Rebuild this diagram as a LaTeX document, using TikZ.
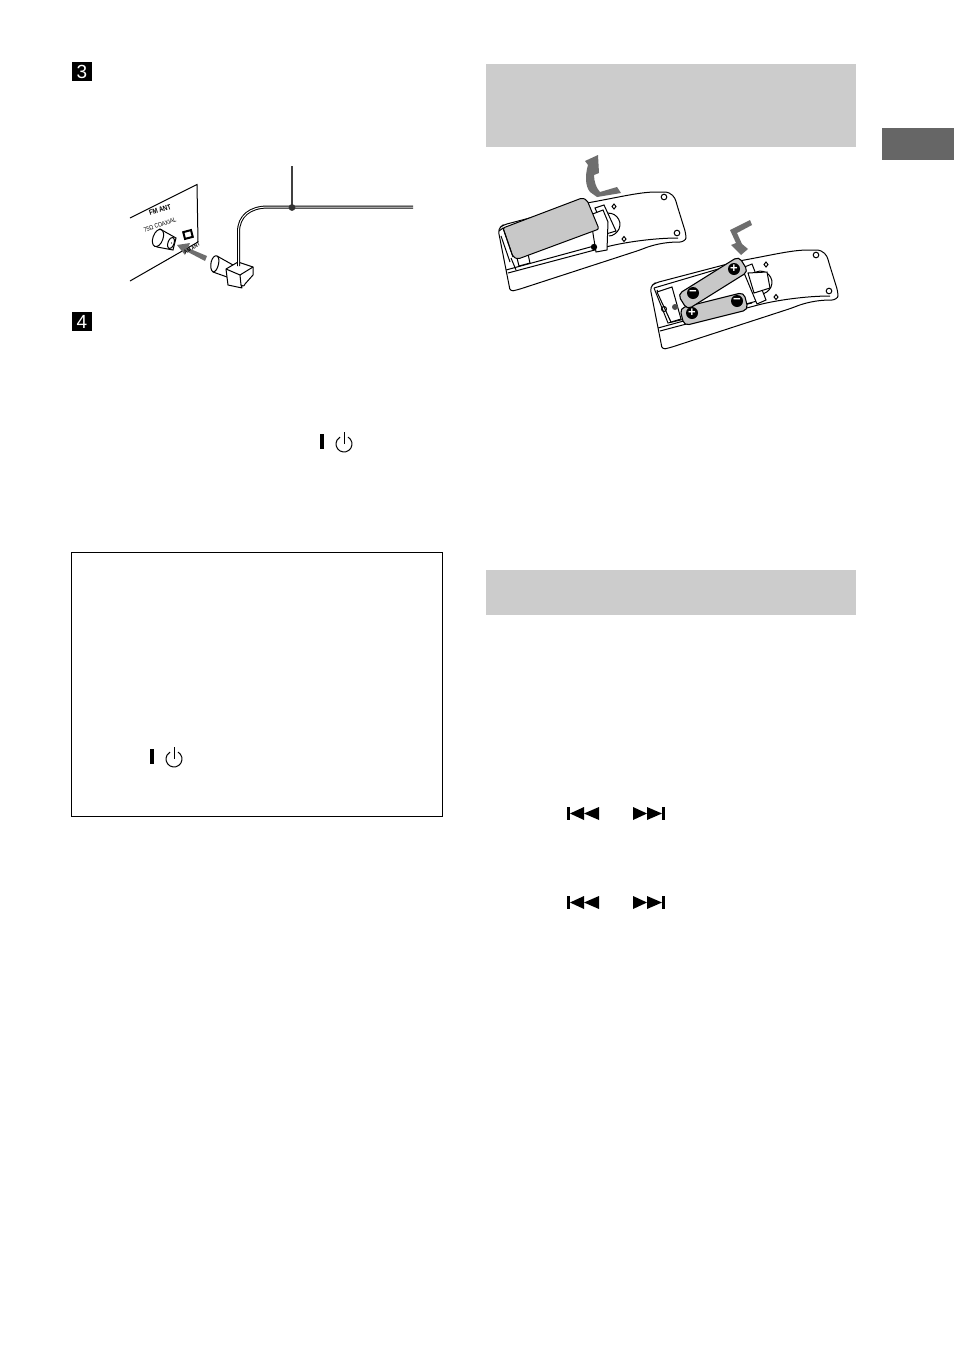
\documentclass[tikz,border=0pt]{standalone}
\usepackage{fontspec}
\setmainfont{Liberation Sans}
\usetikzlibrary{calc}
\definecolor{headgray}{HTML}{CCCCCC}
\definecolor{tabgray}{HTML}{666666}
\definecolor{arrowgray}{HTML}{6E6E6E}
\definecolor{coldgray}{HTML}{C8C8C8}
\tikzset{
 numbox/.style={fill=black,text=white,inner sep=0pt,minimum size=19.5pt,font=\fontsize{19}{19}\selectfont},
 panellabel/.style={inner sep=0pt,rotate=18},
 thin line/.style={line width=1pt,black},
 cell/.style={draw=black,line width=1.1pt,fill=coldgray,rounded corners=5pt,inner sep=0pt,minimum height=18pt},
 pole/.style={circle,fill=black,text=white,inner sep=0pt,minimum size=12pt,font=\bfseries\fontsize{13}{13}\selectfont},
}
% back of the remote, drawn where the first one lies
\newcommand{\remotebody}{
 \draw[thin line,fill=white,rounded corners=4pt] (498,229)--(503,225)--(587,203)
  ..controls (620,197) and (640,192) .. (660,192)
  ..controls (672,192) and (675,198) .. (677,205)--(686,234)
  ..controls (686,240) and (682,242) .. (676,242)
  ..controls (660,243) and (650,246) .. (640,250)--(517,290)
  ..controls (512,291) and (510,290) .. (509,285)--cycle;
 \draw[thin line] (508,273)--(606,247)
  ..controls (625,242) and (655,238) .. (678,238);
 \draw[thin line] (506,270)--(605,243);
 \draw[thin line] (664,197) circle (2.8);
 \draw[thin line] (677,233) circle (2.8);
 \draw[thin line] (614,204)--(616,206.5)--(614,209)--(612,206.5)--cycle;
 \draw[thin line] (624,236.5)--(626,239)--(624,241.5)--(622,239)--cycle;
 \draw[thin line] (604,214) ..controls (614,210) and (623,220) .. (619,229)
  ..controls (617,233) and (613,236) .. (609,236);
}
\newcommand{\powersign}[2]{
 \fill (#1,#2) rectangle ++(4,15);
 \draw[line width=1pt] ($(#1,#2)+(24,-2)$) --++(0,12);
 \draw[line width=1pt] ($(#1,#2)+(28,3.07)$) arc[start angle=-60,end angle=240,radius=8];
}
\begin{document}
\begin{tikzpicture}[x=1pt,y=-1pt]
\useasboundingbox (0,0) rectangle (954,1352);
\fill[white] (0,0) rectangle (954,1352);

% grey bands and the side tab
\fill[headgray] (486,64) rectangle (856,147);
\fill[headgray] (486,570) rectangle (856,615);
\fill[tabgray] (882,128) rectangle (954,160);
\draw[thin line] (71.5,552.5) rectangle (442.5,816.5);

\node[numbox] (stepthree) at (82,71.5) {3};
\node[numbox] (stepfour) at (82,321.5) {4};

% aerial socket
\draw[thin line] (130,218)--(197,184.5)--(198,242)--(130,281);
\node[panellabel,xscale=0.8,font=\bfseries\fontsize{7.5}{8}\selectfont] (fmant) at (160,210) {FM ANT};
\node[panellabel,xscale=0.8,font=\fontsize{6.5}{7}\selectfont] (coaxial) at (160,225) {75Ω COAXIAL};
\draw[thin line,fill=white] (160,229)--(176,238)--(173,250)--(157,247)--cycle;
\draw[thin line,fill=white] (158,238) ellipse[x radius=5,y radius=9,rotate=-20];
\draw[thin line,fill=white] (171,243) ellipse[x radius=3,y radius=6,rotate=-20];
\fill (171.5,243) circle (0.7);
\node[draw=black,line width=2pt,fill=white,inner sep=0pt,minimum width=8pt,minimum height=7pt,rotate=15] (amterm) at (188,234.5) {};
\fill[arrowgray] (207,256)--(188,248)--(190,243)--(177,245)--(185,255)--(186,251)--(205,261)--cycle;
\node[panellabel,rotate=12,xscale=0.75,font=\bfseries\fontsize{6}{6.5}\selectfont] (amant) at (192,248) {AM ANT};

% plug and lead
\draw[thin line,fill=white] (217,256)--(233,265)--(227,277)--(213,272)
 ..controls (208,268) and (212,254) .. (217,256)--cycle;
\draw[thin line] (217,256) ..controls (221,258) and (218,272) .. (213,272);
\draw[thin line,fill=white,line join=round] (226,269)--(238,262)--(253,267)--(253,275)--(245,284)
 ..controls (244,287) and (242,286) .. (241,285)--(242,288)--(228,285)--cycle;
\draw[thin line] (226,269)--(240,275)--(253,267);
\draw[thin line] (240,275)--(241,285);
\draw[line width=3pt] (238.5,266) --(238.5,232) ..controls (238.5,216) and (250,207) .. (268,207)--(413,207);
\draw[white,line width=1pt] (238.5,266.5) --(238.5,232) ..controls (238.5,216) and (250,207) .. (268,207)--(414,207);
\draw[line width=1.6pt,black!75] (292,166)--(292,207);
\fill[black!80] (292,207.5) circle (3.4);

% first remote with the lid
\remotebody
\draw[thin line] (511,258)--(516,270);
\draw[thin line,fill=white] (595,208)--(604,205)--(616,231)--(606,234)--cycle;
\draw[thin line,fill=white] (590,215)--(603,210)--(608,222)--(607,250)--(596,252)--cycle;
\fill (594,247) circle (3.2);
\draw[thin line,fill=white] (517,258)--(528,254)--(530,263)--(519,266)--cycle;
\draw[thin line,fill=coldgray,rounded corners=2pt] (503,228)--(582,198)--(587,200)--(599,229)--(518,259)--(513,257)--cycle;
\draw[thin line] (499,231)--(503,228)--(513,257);
\draw[thin line] (501,236)--(510,262);

% second remote with the cells
\begin{scope}[shift={(152,58)}]
\remotebody
\end{scope}
\draw[thin line] (654,288)--(668,323)--(752,303);
\draw[thin line] (657,290)--(671,322);
\draw[thin line] (654,288)--(742,262);
\draw[thin line,fill=white] (657,292)--(672,287)--(681,319)--(671,322)--cycle;
\draw[thin line] (664,309) circle (2.5);
\draw[thin line,fill=white] (742,268)--(752,264)--(766,300)--(757,304)--cycle;
\draw[thin line,fill=white] (748,273)--(767,272)--(770,288)--(754,293)--cycle;
\fill[black!70] (675,307) circle (3);
\node[cell,minimum width=66pt,rotate=14] (celllow) at (714,309) {};
\node[cell,minimum width=72pt,rotate=32] (celltop) at (713,283) {};
\node[pole] (plusone) at (734,269) {+};
\node[pole] (minusone) at (693,293) {−};
\node[pole] (plustwo) at (692,313) {+};
\node[pole] (minustwo) at (737,301) {−};

% bent arrows
\fill[arrowgray] (598,155)--(585,161)--(588,165) ..controls (585,175) and (585,186) .. (590,192)
 --(597,197)--(621,193)--(617,187)--(600,192) ..controls (596,188) and (594,181) .. (594,175)--(599,173)--cycle;
\fill[arrowgray] (750,220)--(730,230)--(736,243)--(731,245)--(741,255)--(748,249)--(742,244)--(737,233)--(752,225)--cycle;

% button marks
\powersign{320}{434}
\powersign{150}{749}
\foreach \y in {813.5,902.5} {
 \fill (567,\y-6.5) rectangle (570,\y+6.5);
 \fill (570,\y)--(584,\y-6.5)--(584,\y+6.5)--cycle;
 \fill (584,\y)--(599,\y-6.5)--(599,\y+6.5)--cycle;
 \fill (633,\y-6.5)--(647,\y)--(633,\y+6.5)--cycle;
 \fill (647,\y-6.5)--(662,\y)--(647,\y+6.5)--cycle;
 \fill (662,\y-6.5) rectangle (665,\y+6.5);
}
\end{tikzpicture}
\end{document}
